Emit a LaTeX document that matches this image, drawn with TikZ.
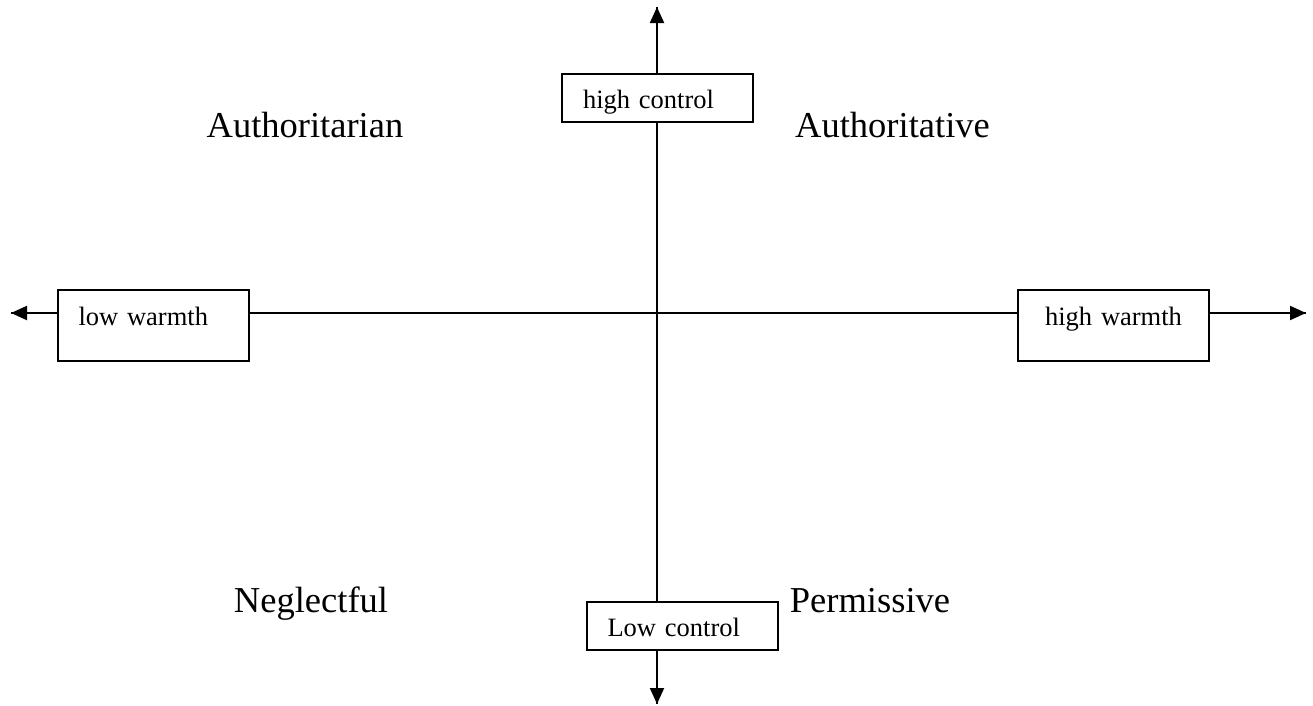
\documentclass[tikz,border=0pt]{standalone}
\usepackage{fontspec}
\setmainfont{Liberation Serif}
\usetikzlibrary{arrows.meta}
\tikzset{
  axis/.style={line width=2pt, -{Triangle[length=16pt,width=14pt]}},
  box/.style={draw, line width=2pt, fill=white, inner ysep=0pt, font=\fontsize{26.5}{28}\selectfont},
  ctrlbox/.style={box, minimum width=191pt, minimum height=48pt, text width=149pt, align=left, inner xsep=21pt, text height=22pt, text depth=1pt},
  warmbox/.style={box, minimum width=191pt, minimum height=71pt, text width=149pt, inner xsep=21pt, text height=12pt, text depth=12pt},
  quad/.style={font=\fontsize{36.5}{40}\selectfont, inner sep=0pt, anchor=base}
}
\begin{document}
\begin{tikzpicture}[x=1pt,y=-1pt]
\useasboundingbox (0,0) rectangle (1313,705);
\coordinate (top) at (657,7);
\coordinate (bot) at (657,704);
\coordinate (lft) at (11,313);
\coordinate (rgt) at (1306,313);
\coordinate (c) at (657,313);
% horizontal and vertical axes
\draw[line width=2pt] (lft) -- (rgt);
\draw[line width=2pt] (top) -- (bot);
\node[ctrlbox] (hc) at (657.5,98) {high control};
\node[ctrlbox] (lc) at (682,626) {Low control};
\node[warmbox, align=left] (lw) at (153,325.5) {low warmth};
\node[warmbox, align=center] (hw) at (1113.5,325.5) {high warmth};
\draw[axis] (hc.north -| c) -- (top);
\draw[axis] (lc.south -| c) -- (bot);
\draw[axis] (lw.west) ++(0,-12.5) coordinate (lwa) (lwa) -- (lft);
\draw[axis] (hw.east) ++(0,-12.5) coordinate (hwa) (hwa) -- (rgt);
\node[quad] (ar) at (305,137) {Authoritarian};
\node[quad] (av) at (892.5,137) {Authoritative};
\node[quad] (ne) at (311,612) {Neglectful};
\node[quad] (pe) at (870,612) {Permissive};
\end{tikzpicture}
\end{document}
